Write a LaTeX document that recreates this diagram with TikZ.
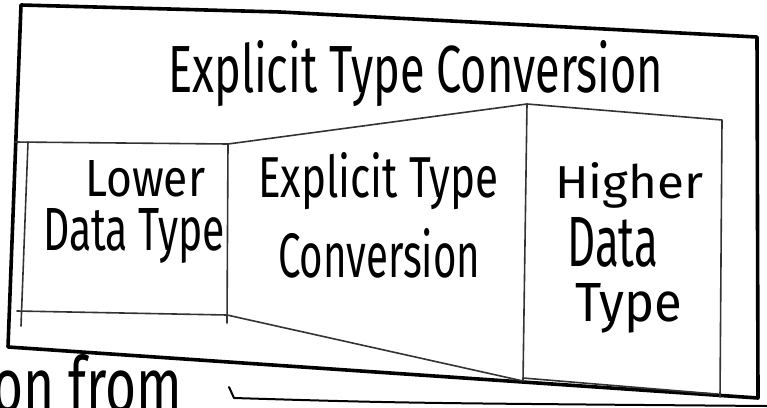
\documentclass[tikz,border=0pt]{standalone}
\usepackage{graphicx}
\usepackage{fontspec}
\setmainfont{Fira Sans}
% text stretched to a given width and height (baseline kept)
\newcommand{\handtext}[3]{\resizebox{#1pt}{#2pt}{#3}}
\begin{document}
\begin{tikzpicture}[x=1pt,y=-1pt,
  frame/.style={line width=3.6pt,line cap=round,line join=round,black},
  panel/.style={line width=1.6pt,line cap=round,line join=round,black!80},
  label/.style={inner sep=0pt,anchor=base west,black}]
\useasboundingbox[fill=white] (0,0) rectangle (767,407);

% outer frame corners
\coordinate (oTL) at (21,5);
\coordinate (oTM) at (280,12);
\coordinate (oTR) at (757,37);
\coordinate (oBR) at (758,398);
\coordinate (oBL) at (8,347);
\draw[frame] (oBL) -- (oTL) -- (oTM) -- (oTR) -- (oBR) -- cycle;

% lower data type panel
\coordinate (lTL) at (28,142);
\coordinate (lTR) at (228,144);
\coordinate (lBR) at (227,315);
\draw[panel] (15,142) -- (lTR);
\draw[panel] (lTL) -- (21,326);
\draw[panel] (17,311) -- (lBR);
\draw[panel] (lTR) -- (227,323);

% conversion panel (trapezoid)
\coordinate (mTR) at (527,104);
\coordinate (mBR) at (523,381);
\draw[panel] (lTR) -- (mTR) -- (mBR) -- (lBR);

% higher data type panel
\coordinate (hTR) at (722,120);
\coordinate (hBR) at (720,397);
\coordinate (hBL) at (523,378);
\draw[panel] (mTR) -- (hTR) -- (hBR);
\draw[panel] (hBL) -- (716,394);

% partial stroke below the frame
\coordinate (sA) at (229,387);
\coordinate (sB) at (234,398);
\coordinate (sC) at (767,406);
\draw[panel,line width=2pt,black] (sA) -- (sB) .. controls (400,403) .. (sC);

% texts
\node[label] (title) at (168,92) {\handtext{495}{52}{Explicit Type Conversion}};
\node[label] (lower1) at (85,196) {\handtext{120}{36}{Lower}};
\node[label] (lower2) at (43,250) {\handtext{182}{42}{Data Type}};
\node[label] (conv1) at (258,197) {\handtext{240}{45}{Explicit Type}};
\node[label] (conv2) at (278,277) {\handtext{202}{49}{Conversion}};
\node[label] (high1) at (555,198) {\handtext{148}{36}{Higher}};
\node[label] (high2) at (567,266) {\handtext{91}{49}{Data}};
\node[label] (high3) at (575,321) {\handtext{107}{38}{Type}};
\node[label] (tail) at (-8,412) {\handtext{190}{58}{on from}};
\end{tikzpicture}
\end{document}
